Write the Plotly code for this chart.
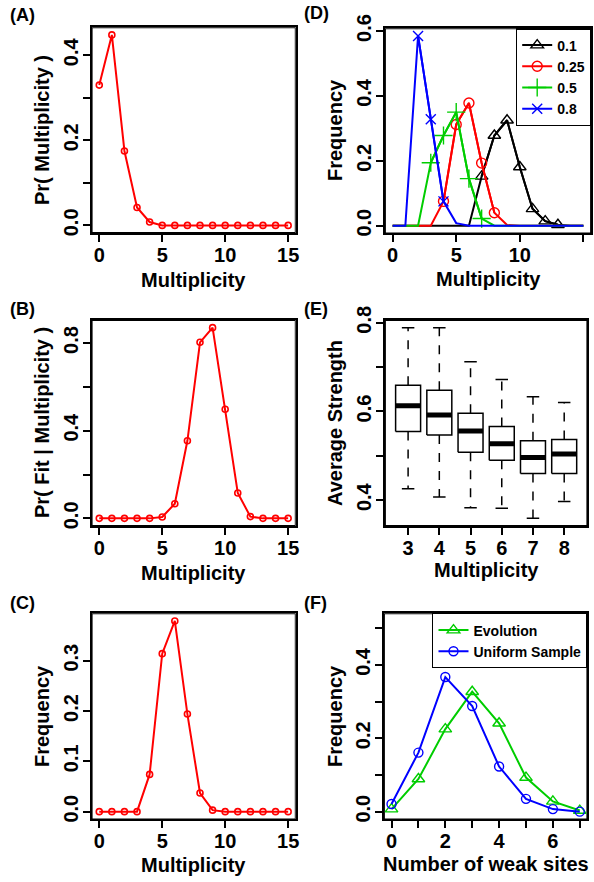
import plotly.graph_objects as go

W, H = 594, 882

# ---------------- data ----------------
mult = list(range(16))
pr_mult = [0.330, 0.448, 0.175, 0.042, 0.008, 0, 0, 0, 0, 0, 0, 0, 0, 0, 0, 0]
pr_fit = [0, 0, 0, 0, 0, 0.006, 0.067, 0.354, 0.803, 0.870, 0.498, 0.116, 0.008, 0, 0, 0]
freq_c = [0, 0, 0, 0, 0.074, 0.314, 0.379, 0.194, 0.037, 0.003, 0, 0, 0, 0, 0, 0]

d_names = ["0.1", "0.25", "0.5", "0.8"]
d_01 = [0, 0, 0, 0, 0, 0, 0, 0.152, 0.278, 0.325, 0.181, 0.052, 0.014, 0.003, 0, 0]
d_025 = [0, 0, 0, 0, 0.075, 0.312, 0.378, 0.193, 0.040, 0.002, 0, 0, 0, 0, 0, 0]
d_05 = [0, 0, 0, 0.194, 0.278, 0.350, 0.145, 0.022, 0, 0, 0, 0, 0, 0, 0, 0]
d_08 = [0, 0, 0.585, 0.328, 0.075, 0.008, 0, 0, 0, 0, 0, 0, 0, 0, 0, 0]
d_marked = [[7, 8, 9, 10, 11, 12, 13], [4, 5, 6, 7, 8], [3, 4, 5, 6, 7], [2, 3, 4]]

e_mult = [3, 4, 5, 6, 7, 8]
e_low = [0.426, 0.407, 0.383, 0.382, 0.359, 0.397]
e_q1 = [0.555, 0.547, 0.508, 0.490, 0.460, 0.460]
e_med = [0.613, 0.592, 0.556, 0.527, 0.496, 0.504]
e_q3 = [0.659, 0.648, 0.596, 0.566, 0.534, 0.537]
e_high = [0.789, 0.789, 0.712, 0.672, 0.633, 0.620]

weak = [0, 1, 2, 3, 4, 5, 6, 7]
evo = [0.007, 0.089, 0.225, 0.327, 0.241, 0.093, 0.028, 0.003]
uni = [0.021, 0.161, 0.367, 0.288, 0.123, 0.035, 0.007, 0.0]

x_titles = ["Multiplicity", "Multiplicity", "Multiplicity", "Multiplicity", "Multiplicity",
            "Number of weak sites"]
y_titles = ["Pr( Multiplicity )", "Pr( Fit | Multiplicity )", "Frequency", "Frequency",
            "Average Strength", "Frequency"]
panel_labels = ["(A)", "(B)", "(C)", "(D)", "(E)", "(F)"]

# ---------------- style ----------------
FONT = "Liberation Sans, Arial, Helvetica, sans-serif"
RED, GREEN, BLUE, BLACK = "#FF0000", "#00CD00", "#0000FF", "#000000"
TICKLEN = 7

fig = go.Figure()

def fx(p):
    return p / W

def fy(p):
    return 1 - p / H

boxes = {
    1: (91.7, 295.7, 27.3, 233.0),   # A
    2: (91.7, 295.7, 320.0, 526.0),  # B
    3: (91.7, 295.7, 613.3, 819.3),  # C
    4: (385.0, 591.0, 28.3, 233.3),  # D
    5: (385.0, 587.3, 320.0, 526.0), # E
    6: (384.0, 587.3, 613.3, 819.3), # F
}
label_pos = {1: (8, 15), 2: (8, 309), 3: (8, 603), 4: (302, 13), 5: (302, 309), 6: (302, 603)}
xtitle_pos = {1: (193.7, 280), 2: (193.7, 573), 3: (193.7, 865),
              4: (488, 279), 5: (486, 570), 6: (486, 864)}
ytitle_pos = {1: (42, 130), 2: (42, 423), 3: (42, 716),
              4: (335, 130), 5: (335, 423), 6: (335, 716)}

TF = dict(family=FONT, size=20, color="black", weight="bold")
axis_common = dict(showline=True, mirror=True, linecolor="black", linewidth=1.8,
                   ticks="outside", ticklen=TICKLEN, tickwidth=1.5, tickcolor="black",
                   showgrid=False, zeroline=False, fixedrange=True, automargin=False,
                   tickfont=TF)

xinfo = {
    1: ([-0.6, 15.6], [0, 5, 10, 15], ["0", "5", "10", "15"]),
    2: ([-0.6, 15.6], [0, 5, 10, 15], ["0", "5", "10", "15"]),
    3: ([-0.6, 15.6], [0, 5, 10, 15], ["0", "5", "10", "15"]),
    4: ([-0.6, 15.6], [0, 5, 10, 15], ["0", "5", "10", "15"]),
    5: ([2.26, 8.74], e_mult, [str(v) for v in e_mult]),
    6: ([-0.28, 7.28], weak, ["0", "", "2", "", "4", "", "6", ""]),
}
yinfo = {
    1: ([-0.0179, 0.4659], [0, 0.1, 0.2, 0.3, 0.4], ["0.0", "", "0.2", "", "0.4"]),
    2: ([-0.0348, 0.9048], [0, 0.2, 0.4, 0.6, 0.8], ["0.0", "", "0.4", "", "0.8"]),
    3: ([-0.0152, 0.3942], [0, 0.1, 0.2, 0.3], ["0.0", "0.1", "0.2", "0.3"]),
    4: ([-0.0234, 0.6084], [0, 0.2, 0.4, 0.6], ["0.0", "0.2", "0.4", "0.6"]),
    5: ([0.3418, 0.8062], [0.4, 0.5, 0.6, 0.7, 0.8], ["0.4", "", "0.6", "", "0.8"]),
    6: ([-0.0208, 0.5408], [0, 0.1, 0.2, 0.3, 0.4, 0.5], ["0.0", "", "0.2", "", "0.4", ""]),
}

def ax(i):
    s = "" if i == 1 else str(i)
    return dict(xaxis="x" + s, yaxis="y" + s)

def seg(i, xs, ys, width=1.5, dash="solid", clip=True):
    fig.add_trace(go.Scatter(x=xs, y=ys, mode="lines", showlegend=False, hoverinfo="skip",
                             cliponaxis=clip, line=dict(color=BLACK, width=width, dash=dash),
                             **ax(i)))

layout_axes = {}
ann = []

def text(x, y, s, size=20, angle=0, xanchor="center"):
    ann.append(dict(x=fx(x), y=fy(y), xref="paper", yref="paper", text=s, showarrow=False,
                    textangle=angle, xanchor=xanchor, yanchor="middle",
                    font=dict(family=FONT, size=size, color="black", weight="bold")))

for i, (l, r, t, b) in boxes.items():
    xs = "" if i == 1 else str(i)
    xr, xtv, xtt = xinfo[i]
    yr, ytv, ytt = yinfo[i]
    layout_axes["xaxis" + xs] = dict(axis_common, domain=[fx(l), fx(r)], range=xr,
                                     tickvals=xtv, ticktext=xtt, anchor="y" + xs,
                                     ticklabelstandoff=-4)
    layout_axes["yaxis" + xs] = dict(axis_common, domain=[fy(b), fy(t)], range=yr,
                                     tickvals=ytv, ticktext=ytt, anchor="x" + xs,
                                     tickangle=-90, ticklabelstandoff=-3)
    # frame and tick marks, derived from each axis range and tick values
    dx = TICKLEN * (xr[1] - xr[0]) / (r - l)
    dy = TICKLEN * (yr[1] - yr[0]) / (b - t)
    seg(i, [xr[0], xr[1], xr[1], xr[0], xr[0]], [yr[0], yr[0], yr[1], yr[1], yr[0]],
        width=1.8, clip=False)
    for v in xtv:
        seg(i, [v, v], [yr[0], yr[0] - dy], clip=False)
    for v in ytv:
        seg(i, [xr[0], xr[0] - dx], [v, v], clip=False)
    lx, ly = label_pos[i]
    text(lx, ly, panel_labels[i - 1], size=18, xanchor="left")
    text(*xtitle_pos[i], x_titles[i - 1])
    text(*ytitle_pos[i], y_titles[i - 1], angle=-90)

for i, vals in ((1, pr_mult), (2, pr_fit), (3, freq_c)):
    fig.add_trace(go.Scatter(x=mult, y=vals, mode="lines+markers", showlegend=False,
                             line=dict(color=RED, width=2),
                             marker=dict(symbol="circle-open", size=6, color=RED,
                                         line=dict(width=1.6, color=RED)),
                             **ax(i)))

d_series = [d_01, d_025, d_05, d_08]
d_colors = [BLACK, RED, GREEN, BLUE]
d_symbols = ["triangle-up-open", "circle-open", "cross-thin-open", "x-thin-open"]
d_sizes = [11, 10, 13, 10]
for name, vals, col, sym, sz, idx in zip(d_names, d_series, d_colors, d_symbols, d_sizes, d_marked):
    fig.add_trace(go.Scatter(x=mult, y=vals, mode="lines", showlegend=False,
                             line=dict(color=col, width=2), **ax(4)))
    fig.add_trace(go.Scatter(x=[mult[k] for k in idx], y=[vals[k] for k in idx],
                             mode="lines+markers", name=name, legend="legend",
                             line=dict(color=col, width=2),
                             marker=dict(symbol=sym, size=sz, color=col,
                                         line=dict(width=1.4, color=col)),
                             **ax(4)))

# ---- E: box plots from summary statistics ----
bw, cw = 0.4, 0.2
for m, lo, q1, md, q3, hi in zip(e_mult, e_low, e_q1, e_med, e_q3, e_high):
    seg(5, [m, m], [q3, hi], dash="dash")
    seg(5, [m, m], [q1, lo], dash="dash")
    seg(5, [m - cw, m + cw], [hi, hi])
    seg(5, [m - cw, m + cw], [lo, lo])
    seg(5, [m - bw, m + bw, m + bw, m - bw, m - bw], [q1, q1, q3, q3, q1])
    seg(5, [m - bw, m + bw], [md, md], width=5)

fig.add_trace(go.Scatter(x=weak, y=evo, mode="lines+markers", name="Evolution", legend="legend2",
                         line=dict(color=GREEN, width=2),
                         marker=dict(symbol="triangle-up-open", size=11, color=GREEN,
                                     line=dict(width=1.4, color=GREEN)), **ax(6)))
fig.add_trace(go.Scatter(x=weak, y=uni, mode="lines+markers", name="Uniform Sample", legend="legend2",
                         line=dict(color=BLUE, width=2),
                         marker=dict(symbol="circle-open", size=9, color=BLUE,
                                     line=dict(width=1.4, color=BLUE)), **ax(6)))

legend_common = dict(bgcolor="white", bordercolor="black", borderwidth=1.2,
                     xanchor="right", yanchor="top",
                     font=dict(family=FONT, size=14, color="black", weight="bold"))

fig.update_layout(
    template="none",
    width=W, height=H, margin=dict(l=0, r=0, t=0, b=0, autoexpand=False),
    showlegend=True,
    legend=dict(legend_common, x=fx(591), y=fy(28.3)),
    legend2=dict(legend_common, x=fx(587.3), y=fy(613.3)),
    annotations=ann,
    **layout_axes,
)

fig.write_html("out.html")
